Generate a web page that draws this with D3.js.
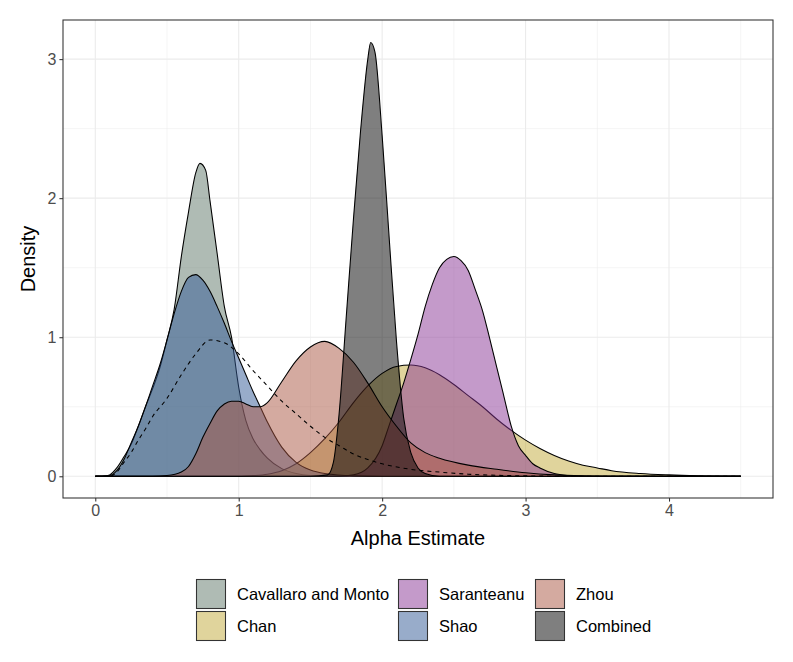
<!DOCTYPE html>
<html><head><meta charset="utf-8">
<script src="https://cdn.jsdelivr.net/npm/d3@7"></script>
<style>body{margin:0;background:#fff}svg{display:block}text{font-family:"Liberation Sans",Arial,Helvetica,sans-serif}</style>
</head><body>
<script>
// ---- data ----
const seriesNames = ["Cavallaro and Monto","Chan","Saranteanu","Shao","Zhou","Combined"];
const seriesFills = ["#5F7769","#C1A939","#893595","#315995","#A95541","#000000"];

const cavallaroX = [0,0.05,0.1,0.15,0.2,0.25,0.3,0.35,0.4,0.45,0.5,0.55,0.6,0.65,0.7,0.73,0.77,0.8,0.85,0.9,0.95,1.0,1.05,1.1,1.15,1.2,1.3,1.4,1.5,1.7,4.5];
const cavallaroY = [0,0,0.01,0.06,0.14,0.23,0.36,0.5,0.63,0.78,0.98,1.2,1.58,1.9,2.18,2.25,2.2,1.98,1.6,1.22,1.0,0.64,0.4,0.27,0.19,0.13,0.055,0.02,0.006,0,0];

const chanX = [0,1.0,1.1,1.2,1.3,1.4,1.5,1.6,1.7,1.8,1.9,2.0,2.1,2.2,2.3,2.4,2.5,2.6,2.7,2.8,2.9,3.0,3.1,3.2,3.3,3.4,3.5,3.6,3.8,4.0,4.2,4.5];
const chanY = [0,0,0.005,0.015,0.04,0.09,0.17,0.27,0.39,0.53,0.65,0.74,0.79,0.8,0.78,0.73,0.66,0.58,0.5,0.41,0.33,0.26,0.2,0.15,0.11,0.08,0.06,0.04,0.02,0.01,0.004,0];

const saranteanuX = [0,1.7,1.8,1.9,2.0,2.05,2.1,2.15,2.2,2.25,2.3,2.35,2.4,2.45,2.5,2.55,2.6,2.65,2.7,2.75,2.8,2.85,2.9,2.95,3.0,3.05,3.1,3.2,3.3,3.4,4.5];
const saranteanuY = [0,0,0.01,0.06,0.22,0.37,0.52,0.67,0.84,1.02,1.22,1.38,1.5,1.56,1.58,1.55,1.48,1.34,1.19,0.99,0.78,0.57,0.36,0.22,0.15,0.09,0.06,0.02,0.005,0,0];

const shaoX = [0,0.1,0.15,0.2,0.25,0.3,0.35,0.4,0.45,0.5,0.55,0.6,0.65,0.7,0.75,0.8,0.85,0.9,0.95,1.0,1.05,1.1,1.15,1.2,1.3,1.4,1.5,1.6,1.8,2.0,4.5];
const shaoY = [0,0.005,0.04,0.12,0.24,0.36,0.5,0.65,0.8,0.98,1.17,1.33,1.43,1.45,1.41,1.33,1.22,1.1,0.97,0.85,0.73,0.61,0.5,0.39,0.21,0.1,0.045,0.02,0.003,0,0];

const zhouX = [0,0.4,0.5,0.6,0.65,0.7,0.75,0.8,0.85,0.9,0.95,1.0,1.05,1.1,1.15,1.2,1.3,1.4,1.5,1.6,1.7,1.8,1.9,2.0,2.1,2.2,2.3,2.4,2.6,2.8,3.0,3.2,3.4,3.6,4.5];
const zhouY = [0,0,0.005,0.03,0.07,0.16,0.28,0.38,0.47,0.52,0.54,0.54,0.52,0.5,0.5,0.53,0.68,0.83,0.93,0.97,0.92,0.82,0.67,0.5,0.36,0.24,0.17,0.13,0.08,0.05,0.025,0.01,0.003,0,0];

const combinedX = [0,1.5,1.62,1.66,1.7,1.75,1.8,1.85,1.9,1.92,1.95,2.0,2.05,2.1,2.15,2.2,2.25,2.3,2.4,4.5];
const combinedY = [0,0,0.01,0.1,0.45,1.15,1.85,2.49,3.0,3.12,3.05,2.45,1.7,0.97,0.42,0.17,0.06,0.02,0,0];

const priorX = [0,0.1,0.15,0.2,0.25,0.3,0.35,0.4,0.5,0.6,0.7,0.8,0.9,1.0,1.1,1.2,1.3,1.4,1.5,1.6,1.7,1.8,1.9,2.0,2.2,2.4,2.6,2.8,3.0,3.3,4.5];
const priorY = [0,0,0.03,0.1,0.17,0.26,0.34,0.43,0.56,0.73,0.88,0.98,0.96,0.88,0.76,0.65,0.54,0.45,0.36,0.28,0.22,0.16,0.12,0.09,0.05,0.03,0.015,0.007,0.003,0,0];

const xTicks = [0,1,2,3,4];
const yTicks = [0,1,2,3];

// ---- chart ----
const W = 793, H = 662;
const P = {l:63, r:773, t:20, b:498};
const svg = d3.select("body").append("svg").attr("width",W).attr("height",H);
const x = d3.scaleLinear().domain([-0.225,4.725]).range([P.l,P.r]);
const y = d3.scaleLinear().domain([-0.15625,3.28125]).range([P.b,P.t]);

const g = svg.append("g");
// minor grid
[0.5,1.5,2.5,3.5,4.5].forEach(v=>g.append("line").attr("x1",x(v)).attr("x2",x(v)).attr("y1",P.t).attr("y2",P.b).attr("stroke","#EBEBEB").attr("stroke-width",0.55));
[0.5,1.5,2.5].forEach(v=>g.append("line").attr("y1",y(v)).attr("y2",y(v)).attr("x1",P.l).attr("x2",P.r).attr("stroke","#EBEBEB").attr("stroke-width",0.55));
// major grid
xTicks.forEach(v=>g.append("line").attr("x1",x(v)).attr("x2",x(v)).attr("y1",P.t).attr("y2",P.b).attr("stroke","#EBEBEB").attr("stroke-width",1.1));
yTicks.forEach(v=>g.append("line").attr("y1",y(v)).attr("y2",y(v)).attr("x1",P.l).attr("x2",P.r).attr("stroke","#EBEBEB").attr("stroke-width",1.1));

const data = [
  [cavallaroX,cavallaroY],[chanX,chanY],[saranteanuX,saranteanuY],
  [shaoX,shaoY],[zhouX,zhouY],[combinedX,combinedY]
];
const area = d3.area().x(d=>x(d[0])).y0(y(0)).y1(d=>y(d[1])).curve(d3.curveMonotoneX);
const line = d3.line().x(d=>x(d[0])).y(d=>y(d[1])).curve(d3.curveMonotoneX);
data.forEach(([xs,ys],i)=>{
  const pts = xs.map((v,j)=>[v,ys[j]]);
  g.append("path").attr("d",area(pts)).attr("fill",seriesFills[i]).attr("fill-opacity",0.5);
  g.append("path").attr("d",line(pts)).attr("fill","none").attr("stroke","#000").attr("stroke-width",1.07);
});
const priorPts = priorX.map((v,j)=>[v,priorY[j]]);
g.append("path").attr("d",line(priorPts)).attr("fill","none").attr("stroke","#000").attr("stroke-width",1.07).attr("stroke-dasharray","4,4");

// panel border
svg.append("rect").attr("x",P.l).attr("y",P.t).attr("width",P.r-P.l).attr("height",P.b-P.t).attr("fill","none").attr("stroke","#333333").attr("stroke-width",1.07);

// axes
const xAxis = d3.axisBottom(x).tickValues(xTicks).tickSize(3.6).tickPadding(3).tickFormat(d3.format("d"));
const yAxis = d3.axisLeft(y).tickValues(yTicks).tickSize(3.6).tickPadding(3).tickFormat(d3.format("d"));
const gx = svg.append("g").attr("transform",`translate(0,${P.b})`).call(xAxis);
const gy = svg.append("g").attr("transform",`translate(${P.l},0)`).call(yAxis);
[gx,gy].forEach(a=>{
  a.select(".domain").remove();
  a.selectAll(".tick line").attr("stroke","#333333").attr("stroke-width",1.07);
  a.selectAll(".tick text").attr("fill","#4D4D4D").attr("font-size",16).attr("font-family","Liberation Sans, Arial, sans-serif");
});

svg.append("text").attr("x",(P.l+P.r)/2).attr("y",545).attr("text-anchor","middle").attr("font-size",20).attr("fill","#000").text("Alpha Estimate");
svg.append("text").attr("transform",`translate(35,${(P.t+P.b)/2}) rotate(-90)`).attr("text-anchor","middle").attr("font-size",20).attr("fill","#000").text("Density");

// legend
const legCols = [196, 398, 535];
const legTextOff = 41;
const legRows = [579, 611];
seriesNames.forEach((n,i)=>{
  const c = Math.floor(i/2), r = i%2;
  const lg = svg.append("g").attr("transform",`translate(${legCols[c]},${legRows[r]})`);
  lg.append("rect").attr("width",30).attr("height",30).attr("fill","#fff");
  lg.append("rect").attr("x",0.5).attr("y",0.5).attr("width",29).attr("height",29).attr("fill",seriesFills[i]).attr("fill-opacity",0.5).attr("stroke","#333").attr("stroke-width",1.07);
  lg.append("text").attr("x",legTextOff).attr("y",15).attr("dy","0.35em").attr("font-size",16.5).attr("fill","#000").text(n);
});
</script>
</body></html>
